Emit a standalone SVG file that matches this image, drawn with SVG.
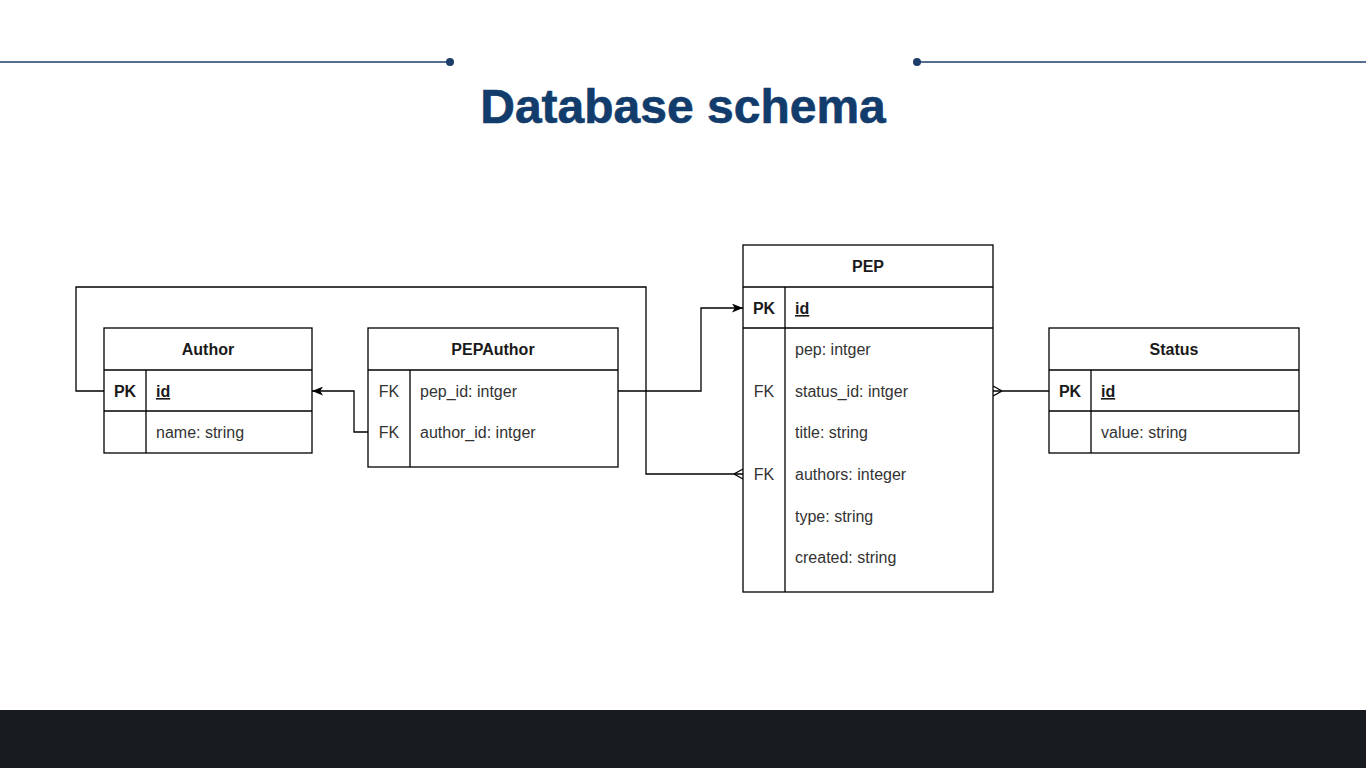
<svg xmlns="http://www.w3.org/2000/svg" width="1366" height="768" viewBox="0 0 1366 768">
<style>
.box{fill:#fff;stroke:#000;stroke-width:1.3}
.ln{stroke:#000;stroke-width:1.3;fill:none}
.hd{font-family:"Liberation Sans",Arial,sans-serif;font-size:16px;font-weight:bold;fill:#1a1a1a;text-anchor:middle}
.key{font-family:"Liberation Sans",Arial,sans-serif;font-size:16px;fill:#333;text-anchor:middle}
.pk{font-weight:bold;fill:#1a1a1a}
.fld{font-family:"Liberation Sans",Arial,sans-serif;font-size:16px;fill:#333}
.uid{font-weight:bold;text-decoration:underline;fill:#1a1a1a}
.conn{stroke:#000;stroke-width:1.3;fill:none}
</style>
<defs>
<marker id="arrow" viewBox="0 0 10 8" refX="10" refY="4" markerWidth="11" markerHeight="9" markerUnits="userSpaceOnUse" orient="auto">
<path d="M0,0 L10,4 L0,8 L2.5,4 Z" fill="#000"/>
</marker>
<marker id="many" viewBox="0 0 10 12" refX="9" refY="6" markerWidth="10" markerHeight="12" markerUnits="userSpaceOnUse" orient="auto">
<path d="M0,6 L9,1 M0,6 L9,11" stroke="#000" stroke-width="1.3" fill="none"/>
</marker>
</defs>
<rect width="1366" height="768" fill="#fff"/>
<g id="decor">
<line x1="0" y1="62" x2="450" y2="62" stroke="#1d3d6b" stroke-width="1.5"/>
<circle cx="450" cy="62" r="4" fill="#1d3d6b"/>
<line x1="917" y1="62" x2="1366" y2="62" stroke="#1d3d6b" stroke-width="1.5"/>
<circle cx="917" cy="62" r="4" fill="#1d3d6b"/>
<text x="683" y="123" text-anchor="middle" font-family="'Liberation Sans',Arial,sans-serif" font-size="48" font-weight="bold" fill="#123c6c" stroke="#123c6c" stroke-width="0.6">Database schema</text>
<rect x="0" y="710" width="1366" height="58" fill="#181b20"/>
</g>
<g id="connectors">
<path class="conn" d="M104,391 H76 V287 H646 V474 H743" marker-end="url(#many)"/>
<path class="conn" d="M1049,391 H993" marker-end="url(#many)"/>
<path class="conn" d="M368,432 H354 V391 H312" marker-end="url(#arrow)"/>
<path class="conn" d="M618,391 H701 V308 H743" marker-end="url(#arrow)"/>
</g>
<g id="author">
<rect class="box" x="104" y="328" width="208" height="125"/>
<line class="ln" x1="104" y1="370" x2="312" y2="370"/>
<line class="ln" x1="104" y1="411" x2="312" y2="411"/>
<line class="ln" x1="146" y1="370" x2="146" y2="453"/>
<text class="hd" x="208" y="355">Author</text>
<text class="key pk" x="125" y="397">PK</text>
<text class="fld uid" x="156" y="397">id</text>
<text class="fld" x="156" y="438">name: string</text>
</g>
<g id="pepauthor">
<rect class="box" x="368" y="328" width="250" height="139"/>
<line class="ln" x1="368" y1="370" x2="618" y2="370"/>
<line class="ln" x1="410" y1="370" x2="410" y2="467"/>
<text class="hd" x="493" y="355">PEPAuthor</text>
<text class="key" x="389" y="397">FK</text>
<text class="fld" x="420" y="397">pep_id: intger</text>
<text class="key" x="389" y="438">FK</text>
<text class="fld" x="420" y="438">author_id: intger</text>
</g>
<g id="pep">
<rect class="box" x="743" y="245" width="250" height="347"/>
<line class="ln" x1="743" y1="287" x2="993" y2="287"/>
<line class="ln" x1="743" y1="328" x2="993" y2="328"/>
<line class="ln" x1="785" y1="287" x2="785" y2="592"/>
<text class="hd" x="868" y="272">PEP</text>
<text class="key pk" x="764" y="314">PK</text>
<text class="fld uid" x="795" y="314">id</text>
<text class="fld" x="795" y="355">pep: intger</text>
<text class="key" x="764" y="397">FK</text>
<text class="fld" x="795" y="397">status_id: intger</text>
<text class="fld" x="795" y="438">title: string</text>
<text class="key" x="764" y="480">FK</text>
<text class="fld" x="795" y="480">authors: integer</text>
<text class="fld" x="795" y="522">type: string</text>
<text class="fld" x="795" y="563">created: string</text>
</g>
<g id="status">
<rect class="box" x="1049" y="328" width="250" height="125"/>
<line class="ln" x1="1049" y1="370" x2="1299" y2="370"/>
<line class="ln" x1="1049" y1="411" x2="1299" y2="411"/>
<line class="ln" x1="1091" y1="370" x2="1091" y2="453"/>
<text class="hd" x="1174" y="355">Status</text>
<text class="key pk" x="1070" y="397">PK</text>
<text class="fld uid" x="1101" y="397">id</text>
<text class="fld" x="1101" y="438">value: string</text>
</g>
</svg>
